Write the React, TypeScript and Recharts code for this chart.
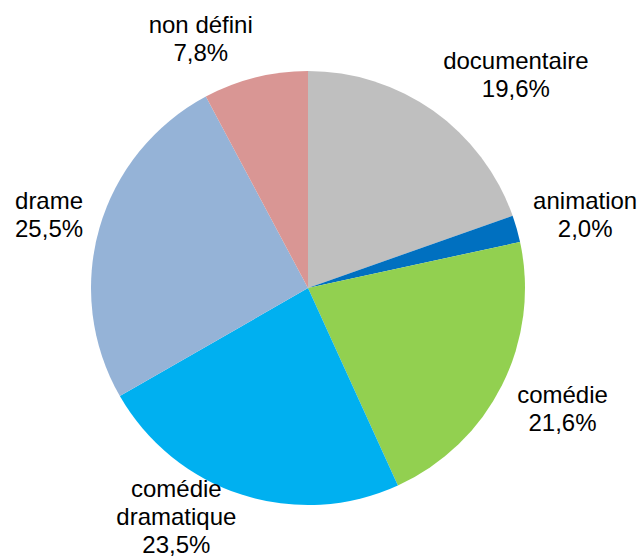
import React from 'react';
import { PieChart, Pie, Cell } from 'recharts';

const categories = ['documentaire', 'animation', 'comédie', 'comédie dramatique', 'drame', 'non défini'];
const shares = [19.6, 2.0, 21.6, 23.5, 25.5, 7.8];
const colors = ['#BFBFBF', '#0070C0', '#92D050', '#00B0F0', '#95B3D7', '#D99694'];

const data = categories.map((name, i) => ({ name, value: shares[i] }));

const W = 643;
const H = 557;
const FONT = 24;
const LH = 28;
const CAP_HALF = 8.6;
const FONT_FAMILY = '"Liberation Sans", Arial, sans-serif';

let ctx: CanvasRenderingContext2D | null = null;
function measure(t: string): number {
  if (!ctx) {
    const c = document.createElement('canvas');
    ctx = c.getContext('2d');
  }
  if (ctx) {
    ctx.font = `${FONT}px ${FONT_FAMILY}`;
    return ctx.measureText(t).width;
  }
  return t.length * FONT * 0.55;
}

const clamp = (v: number) => Math.max(-1, Math.min(1, v));

function renderLabel(props: any) {
  const { cx, cy, midAngle, outerRadius, name, value, index } = props;
  const pct = Number(value).toFixed(1).replace('.', ',') + '%';
  const nameLines: string[] = measure(name) > 160 ? String(name).split(' ') : [name];
  const lines = [...nameLines, pct];
  const hw = Math.max(...lines.map(measure)) / 2;
  const hh = ((lines.length - 1) * LH) / 2 + CAP_HALF;
  const rad = (-midAngle * Math.PI) / 180;
  const c = Math.cos(rad);
  const s = Math.sin(rad);
  const r = outerRadius + 17;
  let x = cx + r * c + hw * clamp(c * 4);
  let y = cy + r * s + hh * clamp(s * 1.5);
  x = Math.max(hw + 2, Math.min(W - hw - 2, x));
  y = Math.max(hh + 4, Math.min(H - hh - 4, y));
  const y0 = y - ((lines.length - 1) * LH) / 2 + CAP_HALF;
  return (
    <text
      key={`lbl-${index}`}
      x={x}
      y={y0}
      textAnchor="middle"
      fontSize={FONT}
      fontFamily={FONT_FAMILY}
      fill="#000000"
    >
      {lines.map((l, i) => (
        <tspan key={i} x={x} y={y0 + i * LH}>
          {l}
        </tspan>
      ))}
    </text>
  );
}

export default function App() {
  return (
    <div style={{ position: 'absolute', left: 0, top: 0, width: W, height: H, background: '#fff' }}>
      <PieChart width={W} height={H} margin={{ top: 0, right: 0, bottom: 0, left: 0 }}>
        <Pie
          data={data}
          dataKey="value"
          nameKey="name"
          cx={308}
          cy={288}
          outerRadius={217}
          startAngle={90}
          endAngle={-270}
          stroke="none"
          labelLine={false}
          label={renderLabel}
          isAnimationActive={false}
        >
          {data.map((d, i) => (
            <Cell key={d.name} fill={colors[i]} />
          ))}
        </Pie>
      </PieChart>
    </div>
  );
}
